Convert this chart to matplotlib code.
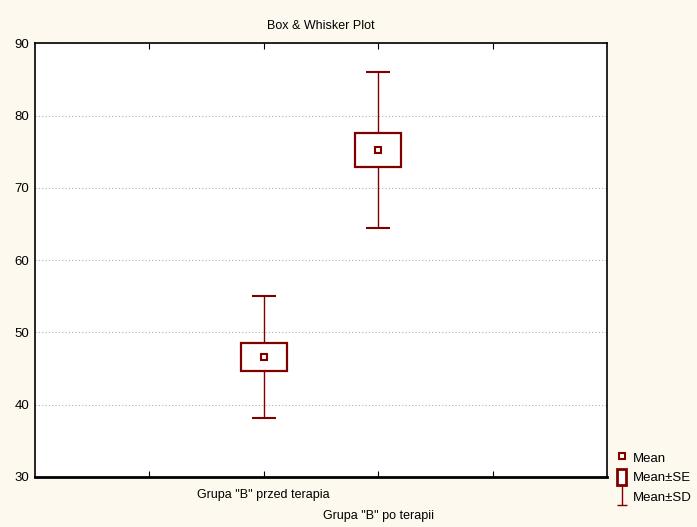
import matplotlib
matplotlib.use("Agg")
import matplotlib.pyplot as plt
from matplotlib.patches import Rectangle
from matplotlib.lines import Line2D
from matplotlib.path import Path

plt.rcParams['font.family'] = ['Liberation Sans', 'DejaVu Sans']

# data
groups = ['Grupa "B" przed terapia', 'Grupa "B" po terapii']
positions = [2, 3]
means = [46.6, 75.2]
se = [1.9, 2.35]
sd = [8.4, 10.8]

dark_red = '#800000'
bg = '#fdf9ee'

fig = plt.figure(figsize=(6.97, 5.27), dpi=100, facecolor=bg)
ax = fig.add_axes([0.050, 0.095, 0.821, 0.823])
ax.set_facecolor('white')

# whiskers (mean +- SD)
ax.errorbar(positions, means, yerr=sd, fmt='none', ecolor=dark_red,
            elinewidth=1.0, capsize=8.5, capthick=1.5, zorder=2)

# boxes (mean +- SE)
for x, m, s in zip(positions, means, se):
    ax.add_patch(Rectangle((x - 0.2, m - s), 0.4, 2 * s, facecolor='white',
                           edgecolor=dark_red, linewidth=1.6, zorder=3))

# mean points
ax.plot(positions, means, ls='none', marker='s', markersize=5,
        mfc='white', mec=dark_red, mew=1.5, zorder=4)

ax.set_xlim(0, 5)
ax.set_ylim(30, 90)
ax.set_yticks([30, 40, 50, 60, 70, 80, 90])
ax.set_xticks([1, 2, 3, 4])
ax.set_xticklabels(['', groups[0], '\n' + groups[1], ''])
ax.get_xticklabels()[2].set_linespacing(1.9)
ax.tick_params(axis='x', direction='in', length=4, top=True, labelsize=9, pad=9)
ax.tick_params(axis='y', length=0, labelsize=9.5, pad=4)
ax.yaxis.grid(True, linestyle=(0, (1, 2)), color='#b0b0b0', linewidth=0.8)
ax.set_axisbelow(True)
for side in ['top', 'right', 'left']:
    ax.spines[side].set_linewidth(1.2)
ax.spines['bottom'].set_linewidth(2)

ax.set_title('Box & Whisker Plot', fontsize=9, pad=10)

# legend handles
i_beam = Path([(-0.5, 1), (0.5, 1), (0, 1), (0, -1), (-0.5, -1), (0.5, -1)],
              [Path.MOVETO, Path.LINETO, Path.MOVETO, Path.LINETO,
               Path.MOVETO, Path.LINETO])
mean_h = Line2D([], [], ls='none', marker='s', markersize=4, mfc='white',
                mec=dark_red, mew=1.5)
se_h = Rectangle((0, 0), 1, 1, facecolor='white', edgecolor=dark_red, linewidth=2)
sd_h = Line2D([], [], ls='none', marker=i_beam, markersize=14, mfc='none',
              mec=dark_red, mew=1.0)
fig.legend([mean_h, se_h, sd_h], ['Mean', 'Mean\u00b1SE', 'Mean\u00b1SD'],
           loc='lower left', bbox_to_anchor=(0.872, 0.025), frameon=False,
           fontsize=9.5, handlelength=0.7, handleheight=1.45,
           handletextpad=0.5, labelspacing=0.3, borderpad=0.2)

fig.savefig('out.png', dpi=100, facecolor=bg)
